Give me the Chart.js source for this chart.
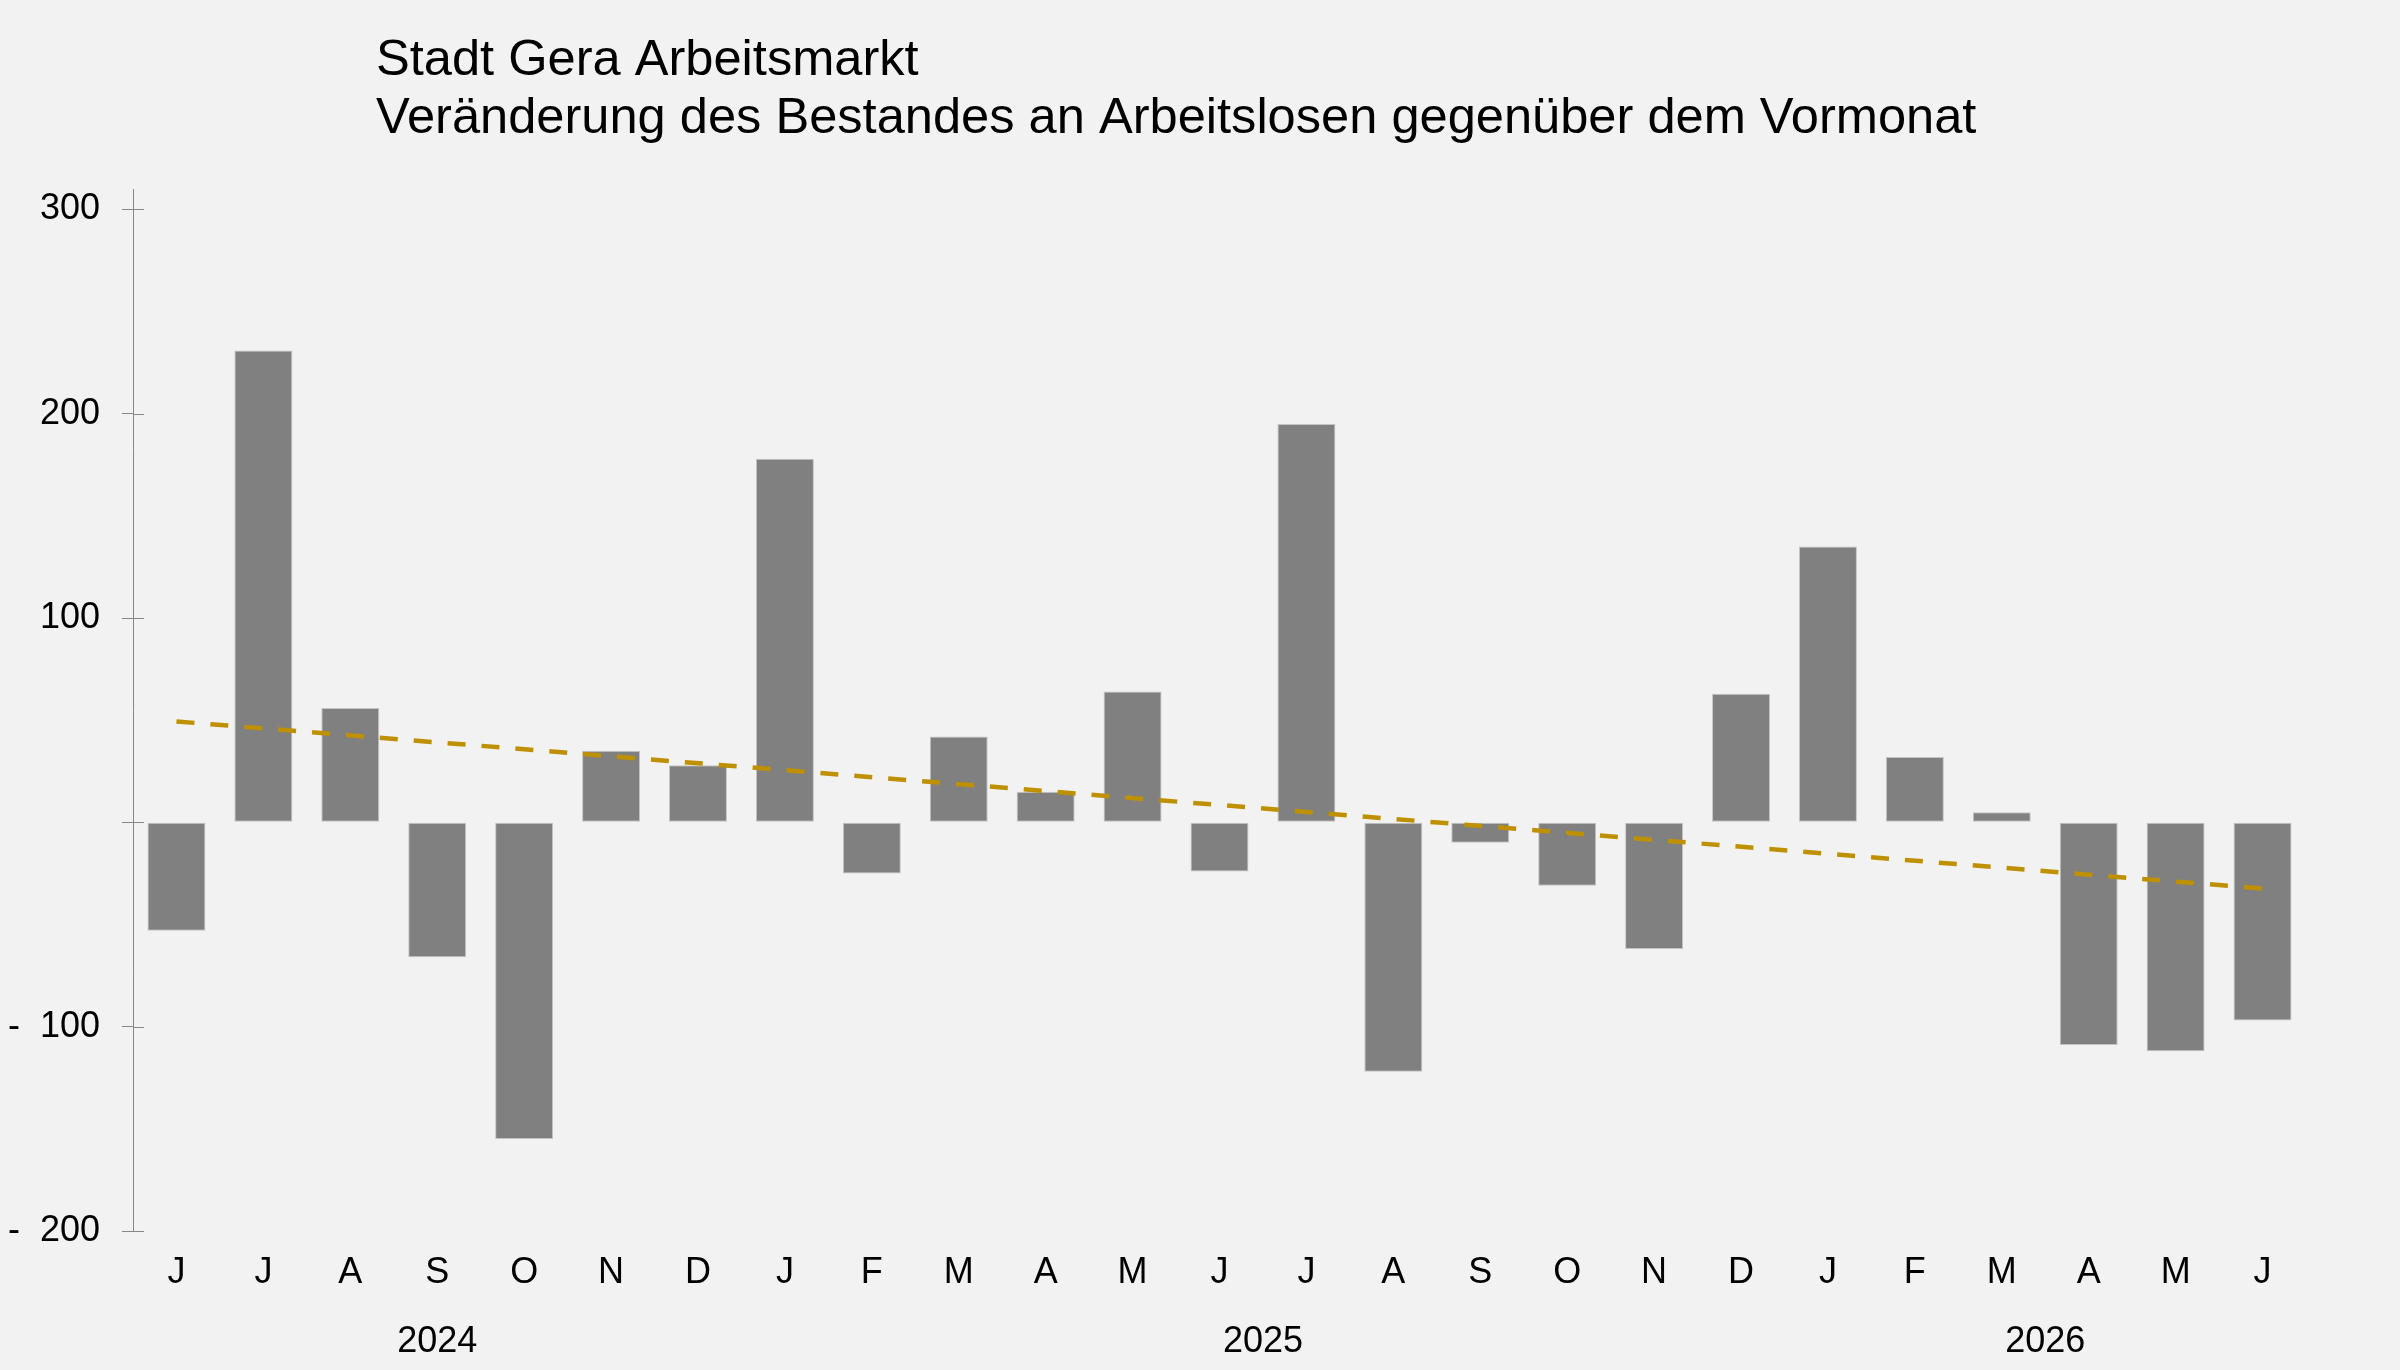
<!DOCTYPE html>
<html>
<head>
<meta charset="utf-8">
<script src="https://cdn.jsdelivr.net/npm/chart.js@4.4.1/dist/chart.umd.min.js"></script>
<style>
  html, body { margin: 0; padding: 0; background: #f2f2f2; }
  #wrap { width: 2400px; height: 1370px; position: relative; }
</style>
</head>
<body>
<div id="wrap"><canvas id="c" width="2400" height="1370"></canvas></div>
<script>
// ---- Data ----
const titleLines = ['Stadt Gera Arbeitsmarkt', 'Veränderung des Bestandes an Arbeitslosen gegenüber dem Vormonat'];
const months = ['J','J','A','S','O','N','D','J','F','M','A','M','J','J','A','S','O','N','D','J','F','M','A','M','J'];
const changes = [-53, 231, 56, -66, -155, 35, 28, 178, -25, 42, 15, 64, -24, 195, -122, -10, -31, -62, 63, 135, 32, 5, -109, -112, -97];
// linear trend line: start and end values (straight line between them)
const trend = [49.4, null, null, null, null, null, null, null, null, null, null, null, null, null, null, null, null, null, null, null, null, null, null, null, -32.4];
const years = ['2024', '2025', '2026'];
const yearFirst = [0, 7, 19];
const yearLast = [6, 18, 24];
const yTickValues = [-200, -100, 0, 100, 200, 300];
const yTickLabels = ['-  200', '-  100', '', '100', '200', '300'];

const FONT = '"Liberation Sans", Arial, Helvetica, sans-serif';
const AXIS_COLOR = '#878787';

const bgPlugin = {
  id: 'bg',
  beforeDraw(chart) {
    const ctx = chart.ctx;
    ctx.save();
    ctx.fillStyle = '#f2f2f2';
    ctx.fillRect(0, 0, chart.width, chart.height);
    ctx.restore();
  }
};

const decoPlugin = {
  id: 'deco',
  afterDraw(chart) {
    const ctx = chart.ctx;
    const x = chart.scales.x, y = chart.scales.y;
    ctx.save();
    // inner halves of y tick marks
    ctx.strokeStyle = AXIS_COLOR;
    ctx.lineWidth = 1;
    y.ticks.forEach((t, i) => {
      const py = Math.round(y.getPixelForTick(i)) + 0.5;
      ctx.beginPath();
      ctx.moveTo(chart.chartArea.left, py);
      ctx.lineTo(chart.chartArea.left + 11, py);
      ctx.stroke();
    });
    // year labels centred under their month groups
    ctx.fillStyle = '#000';
    ctx.font = '36px ' + FONT;
    ctx.textAlign = 'center';
    ctx.textBaseline = 'alphabetic';
    years.forEach((yr, i) => {
      const cx = (x.getPixelForValue(yearFirst[i]) + x.getPixelForValue(yearLast[i])) / 2;
      ctx.fillText(yr, cx, x.top + 121);
    });
    // titles
    ctx.font = '50.6px ' + FONT;
    ctx.textAlign = 'left';
    ctx.fillText(titleLines[0], 376, 75);
    ctx.fillText(titleLines[1], 376, 133);
    ctx.restore();
  }
};

new Chart(document.getElementById('c'), {
  type: 'bar',
  data: {
    labels: months,
    datasets: [
      {
        type: 'line',
        data: trend,
        spanGaps: true,
        borderColor: '#BF9000',
        borderWidth: 4.5,
        borderDash: [18, 16],
        pointRadius: 0,
        fill: false,
        tension: 0,
        order: 0
      },
      {
        type: 'bar',
        data: changes,
        backgroundColor: '#808080',
        borderColor: '#c4c4c4',
        borderWidth: 1,
        borderSkipped: false,
        categoryPercentage: 1.0,
        barPercentage: 0.667,
        order: 1
      }
    ]
  },
  options: {
    responsive: false,
    devicePixelRatio: 1,
    animation: false,
    layout: { padding: { top: 189, right: 94, bottom: 0, left: 0 } },
    plugins: {
      legend: { display: false },
      tooltip: { enabled: false },
      title: { display: false }
    },
    scales: {
      x: {
        grid: { display: false, drawTicks: false },
        border: { display: false },
        ticks: {
          color: '#000',
          font: { family: FONT, size: 36 },
          padding: 20,
          maxRotation: 0,
          autoSkip: false
        },
        afterFit(scale) { scale.height = 139; }
      },
      y: {
        min: -200,
        max: 310,
        afterBuildTicks(scale) {
          scale.ticks = yTickValues.map(v => ({ value: v }));
        },
        grid: {
          drawOnChartArea: false,
          drawTicks: true,
          tickLength: 11,
          color: AXIS_COLOR,
          lineWidth: 1
        },
        border: { display: true, color: AXIS_COLOR, width: 1 },
        ticks: {
          color: '#000',
          font: { family: FONT, size: 36 },
          padding: 22,
          callback(value) {
            const i = yTickValues.indexOf(value);
            return i >= 0 ? yTickLabels[i] : '';
          }
        },
        afterFit(scale) { scale.width = 133; }
      }
    }
  },
  plugins: [bgPlugin, decoPlugin]
});
</script>
</body>
</html>
